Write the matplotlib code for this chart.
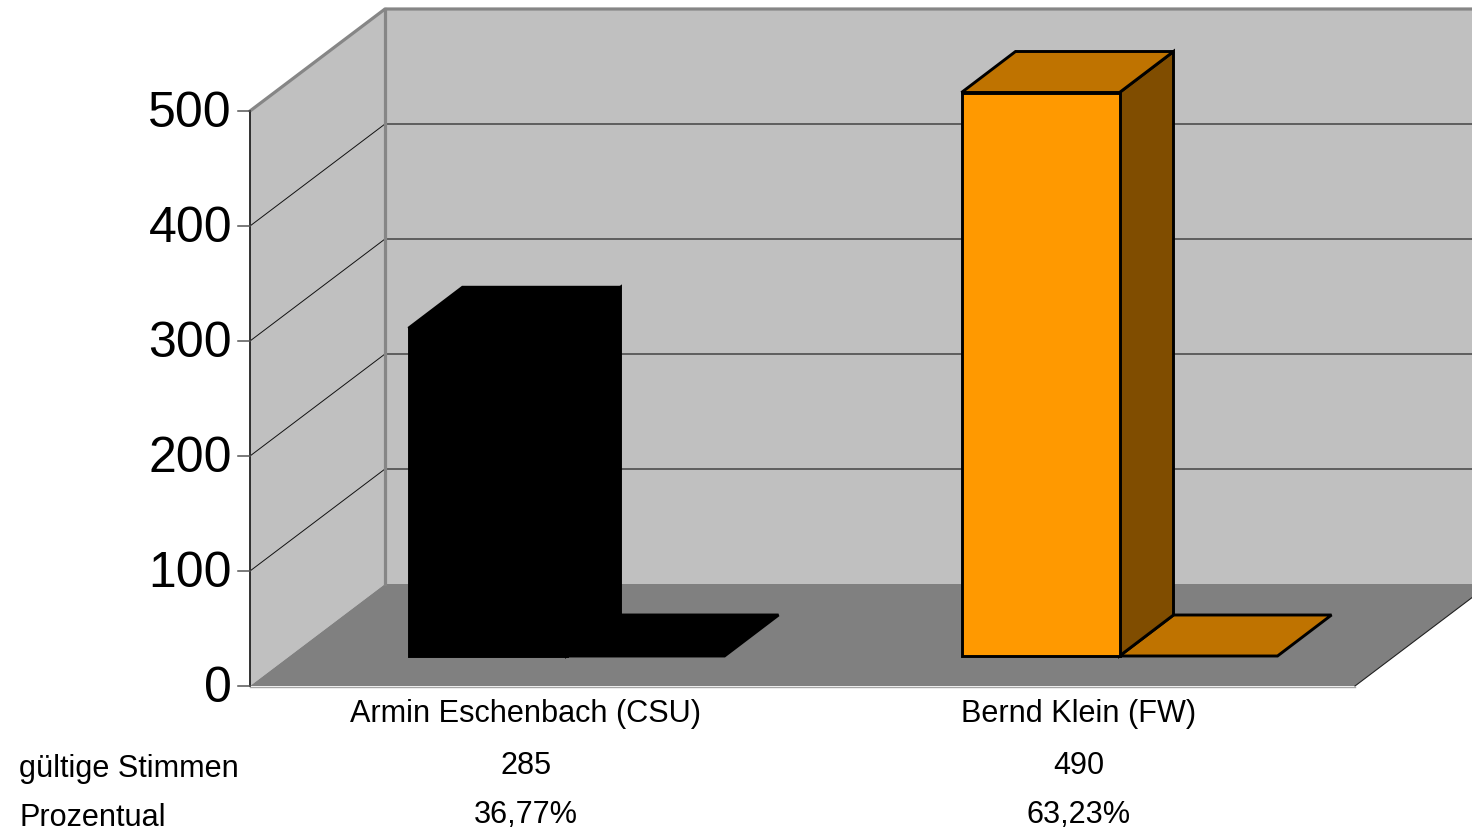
import matplotlib

matplotlib.use("Agg")

import matplotlib.pyplot as plt
from matplotlib.patches import Polygon


CANDIDATES = ["Armin Eschenbach (CSU)", "Bernd Klein (FW)"]
VOTES = [285, 490]
VOTE_LABELS = ["285", "490"]
PERCENT_LABELS = ["36,77%", "63,23%"]
ROW_LABELS = ["gültige Stimmen", "Prozentual"]
Y_TICKS = [0, 100, 200, 300, 400, 500]

FRONT_COLORS = ["#000000", "#FF9900"]
TOP_COLORS = ["#000000", "#BF7300"]
SIDE_COLORS = ["#000000", "#804D00"]

WALL = "#C0C0C0"
FLOOR = "#808080"
FRAME = "#868686"

# plot geometry in pixels
X0 = 250
Y0 = 686
DX = 135
DY = 102
SCALE = 1.15
FLOOR_W = 1105
SLOT = 553
BAR_LEFT = 408.5
BAR_W = 158
BAR_BASE = 656
BAR_DX = 54
BAR_DY = 41
LABEL_X = 526


def face(ax, points, color, edge="black", lw=2.1, z=3):
    ax.add_patch(Polygon(points, closed=True, facecolor=color, edgecolor=edge,
                         linewidth=lw, joinstyle="miter", zorder=z))


def draw_frame(ax):
    top = Y0 - Y_TICKS[-1] * SCALE
    right = X0 + DX + FLOOR_W

    face(ax, [(X0 + DX, top - DY), (right, top - DY), (right, Y0 - DY), (X0 + DX, Y0 - DY)],
         WALL, edge="none", lw=0, z=1)
    face(ax, [(X0, top), (X0 + DX, top - DY), (X0 + DX, Y0 - DY), (X0, Y0)],
         WALL, edge="none", lw=0, z=1)
    face(ax, [(X0, Y0), (X0 + DX, Y0 - DY), (right, Y0 - DY), (X0 + FLOOR_W, Y0)],
         FLOOR, edge="none", lw=0, z=1)

    for tick in Y_TICKS[1:-1]:
        y = Y0 - tick * SCALE
        ax.plot([X0, X0 + DX], [y, y - DY], color="#111111", lw=0.7, zorder=2)
        ax.plot([X0 + DX, right], [y - DY, y - DY], color="#444444", lw=1.1, zorder=2)

    ax.plot([X0, X0 + DX, right], [top, top - DY, top - DY], color=FRAME, lw=2.3, zorder=2)
    ax.plot([X0 + DX, X0 + DX], [top - DY, Y0 - DY], color=FRAME, lw=2.3, zorder=2)
    ax.plot([X0, X0 + FLOOR_W], [Y0 + 0.5, Y0 + 0.5], color="#A6A6A6", lw=1.0, zorder=2)
    ax.plot([X0 + FLOOR_W, right], [Y0, Y0 - DY], color="#222222", lw=0.8, zorder=2)
    ax.plot([X0, X0], [top, Y0], color="#222222", lw=1.3, zorder=2)

    for tick in Y_TICKS:
        y = Y0 - tick * SCALE
        ax.plot([X0 - 12, X0], [y, y], color="#555555", lw=1.1, zorder=2)
        ax.text(X0 - 18, y + 3, str(tick), ha="right", va="center", fontsize=36)


def draw_bar(ax, i, value):
    x = BAR_LEFT + i * SLOT
    top = BAR_BASE - value * SCALE
    front, lid, side = FRONT_COLORS[i], TOP_COLORS[i], SIDE_COLORS[i]

    # bar's shadow on the floor
    face(ax, [(x + BAR_W, BAR_BASE), (x + BAR_W + BAR_DX, BAR_BASE - BAR_DY),
              (x + 2 * BAR_W + BAR_DX, BAR_BASE - BAR_DY), (x + 2 * BAR_W, BAR_BASE)], lid)
    face(ax, [(x + BAR_W, BAR_BASE), (x + BAR_W + BAR_DX, BAR_BASE - BAR_DY),
              (x + BAR_W + BAR_DX, top - BAR_DY), (x + BAR_W, top)], side)
    face(ax, [(x, top), (x + BAR_DX, top - BAR_DY),
              (x + BAR_W + BAR_DX, top - BAR_DY), (x + BAR_W, top)], lid)
    face(ax, [(x, BAR_BASE), (x, top), (x + BAR_W, top), (x + BAR_W, BAR_BASE)], front)


def main():
    plt.rcParams["font.family"] = ["Liberation Sans", "DejaVu Sans"]

    fig = plt.figure(figsize=(14.72, 8.31), dpi=100)
    ax = fig.add_axes([0, 0, 1, 1])
    ax.set_xlim(0, 1472)
    ax.set_ylim(831, 0)
    ax.axis("off")

    draw_frame(ax)

    for i, value in enumerate(VOTES):
        draw_bar(ax, i, value)

    for i, name in enumerate(CANDIDATES):
        x = LABEL_X + i * SLOT
        ax.text(x, 714, name, ha="center", va="center", fontsize=22.1)
        ax.text(x, 766, VOTE_LABELS[i], ha="center", va="center", fontsize=22.1)
        ax.text(x, 815, PERCENT_LABELS[i], ha="center", va="center", fontsize=22.1)

    ax.text(19, 769, ROW_LABELS[0], ha="left", va="center", fontsize=22.1)
    ax.text(19, 818, ROW_LABELS[1], ha="left", va="center", fontsize=22.1)

    fig.savefig("out.png", dpi=100)
    plt.close(fig)


if __name__ == "__main__":
    main()
